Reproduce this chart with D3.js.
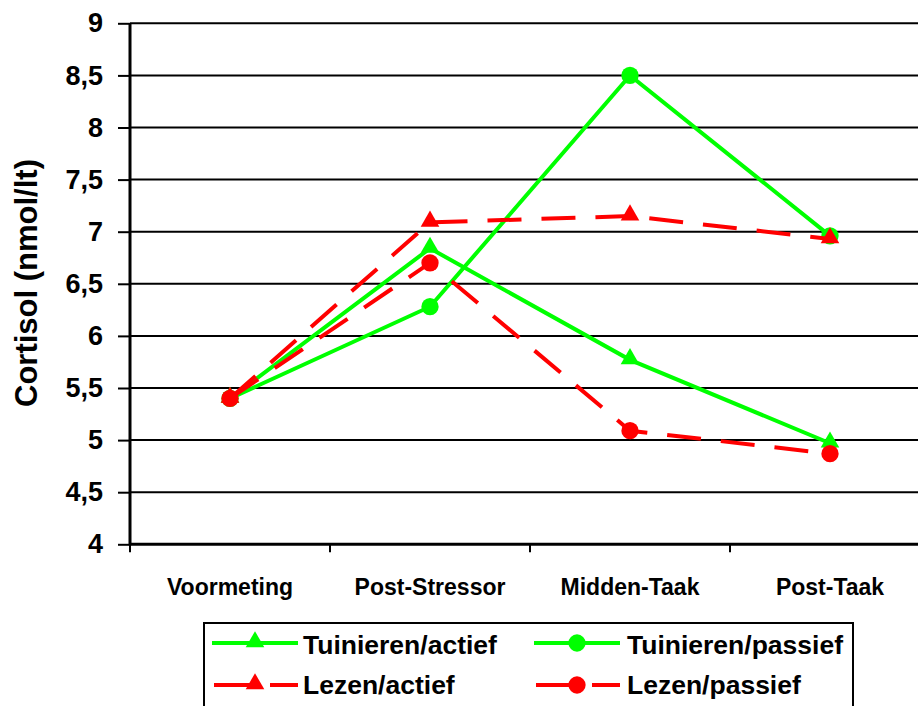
<!DOCTYPE html>
<html>
<head>
<meta charset="utf-8">
<script src="https://cdn.jsdelivr.net/npm/d3@7"></script>
<style>
  html, body { margin: 0; padding: 0; background: #fff; }
  svg { display: block; font-family: "Liberation Sans", Arial, sans-serif; font-weight: bold; }
</style>
</head>
<body>
<svg id="chart" width="918" height="706"></svg>
<script>
const categories = ["Voormeting", "Post-Stressor", "Midden-Taak", "Post-Taak"];
const yTicks = [4, 4.5, 5, 5.5, 6, 6.5, 7, 7.5, 8, 8.5, 9];
const seriesNames = ["Tuinieren/actief", "Tuinieren/passief", "Lezen/actief", "Lezen/passief"];
const tuinierenActief  = [5.4, 6.84, 5.77, 4.97];
const tuinierenPassief = [5.4, 6.28, 8.5, 6.96];
const lezenActief      = [5.4, 7.09, 7.15, 6.93];
const lezenPassief     = [5.4, 6.70, 5.09, 4.87];
const yLabel = "Cortisol (nmol/lt)";

const series = [
  { name: seriesNames[0], values: tuinierenActief,  color: "#00FF00", dash: null,    marker: "triangle" },
  { name: seriesNames[1], values: tuinierenPassief, color: "#00FF00", dash: null,    marker: "circle" },
  { name: seriesNames[2], values: lezenActief,      color: "#FF0000", dash: "34,20", marker: "triangle" },
  { name: seriesNames[3], values: lezenPassief,     color: "#FF0000", dash: "34,20", marker: "circle" }
];

const svg = d3.select("#chart");
const pL = 130, pR = 930, pT = 23.3, pB = 544.3;

const x = d3.scaleBand().domain(categories).range([pL, pR]).padding(0);
const y = d3.scaleLinear().domain([4, 9]).range([pB, pT]);
const cx = c => x(c) + x.bandwidth() / 2;

// gridlines
svg.append("g").selectAll("line").data(yTicks.filter(t => t > 4)).join("line")
  .attr("x1", pL).attr("x2", 918)
  .attr("y1", d => y(d)).attr("y2", d => y(d))
  .attr("stroke", "#000").attr("stroke-width", 2);

// y axis
const yAxis = svg.append("g").attr("transform", `translate(${pL},0)`)
  .call(d3.axisLeft(y).tickValues(yTicks).tickSize(12).tickPadding(15)
    .tickFormat(d => String(d).replace(".", ",")));
yAxis.select(".domain").attr("stroke", "#000").attr("stroke-width", 3)
  .attr("d", `M0,${pT}V${pB + 1}`);
yAxis.selectAll(".tick line").attr("stroke", "#000").attr("stroke-width", 2);
yAxis.selectAll(".tick text").attr("font-size", 27).attr("font-weight", "bold")
  .attr("fill", "#000").attr("font-family", "Liberation Sans, Arial, sans-serif");

// x axis
const xAxis = svg.append("g").attr("transform", `translate(0,${pB})`)
  .call(d3.axisBottom(x).tickSize(0).tickPadding(34));
xAxis.select(".domain").attr("stroke", "#000").attr("stroke-width", 3)
  .attr("d", `M${pL},0H918`);
xAxis.selectAll(".tick text").attr("font-size", 23).attr("font-weight", "bold")
  .attr("fill", "#000").attr("font-family", "Liberation Sans, Arial, sans-serif");
const boundaries = categories.map(c => x(c)).concat([pR]);
svg.append("g").selectAll("line").data(boundaries).join("line")
  .attr("x1", d => d).attr("x2", d => d)
  .attr("y1", pB).attr("y2", pB + 8)
  .attr("stroke", "#000").attr("stroke-width", 2);

// y label
svg.append("text")
  .attr("transform", `translate(37,283) rotate(-90)`)
  .attr("text-anchor", "middle").attr("font-size", 31).attr("fill", "#000")
  .text(yLabel);

// lines
const line = d3.line().x((d, i) => cx(categories[i])).y(d => y(d));
const triangle = d3.symbol().type(d3.symbolTriangle).size(150);
const circle = d3.symbol().type(d3.symbolCircle).size(235);

series.forEach(s => {
  svg.append("path").datum(s.values)
    .attr("d", line).attr("fill", "none")
    .attr("stroke", s.color).attr("stroke-width", 4)
    .attr("stroke-dasharray", s.dash);
  svg.append("g").selectAll("path").data(s.values).join("path")
    .attr("transform", (d, i) => `translate(${cx(categories[i])},${y(d) + (s.marker === "triangle" ? -1 : 0)})`)
    .attr("d", s.marker === "triangle" ? triangle : circle)
    .attr("fill", s.color);
});

// legend
const legend = svg.append("g");
legend.append("rect").attr("x", 204).attr("y", 623).attr("width", 649).attr("height", 100)
  .attr("fill", "#fff").attr("stroke", "#000").attr("stroke-width", 2);
const legendPos = [
  { lx1: 212, lx2: 298, mx: 255, ty: 654, ly: 643, tx: 303 },
  { lx1: 534, lx2: 620, mx: 577, ty: 654, ly: 643, tx: 627 },
  { lx1: 214, lx2: 298, mx: 255, ty: 694, ly: 685, tx: 303 },
  { lx1: 536, lx2: 620, mx: 577, ty: 694, ly: 685, tx: 627 }
];
series.forEach((s, i) => {
  const p = legendPos[i];
  legend.append("line").attr("x1", p.lx1).attr("x2", p.lx2).attr("y1", p.ly).attr("y2", p.ly)
    .attr("stroke", s.color).attr("stroke-width", 4)
    .attr("stroke-dasharray", s.dash ? "40,16" : null);
  legend.append("path")
    .attr("transform", `translate(${p.mx},${p.ly + (s.marker === "triangle" ? -1 : 0)})`)
    .attr("d", s.marker === "triangle" ? triangle : circle)
    .attr("fill", s.color);
  legend.append("text").attr("x", p.tx).attr("y", p.ty).attr("font-size", 26.5).attr("fill", "#000")
    .text(s.name);
});
</script>
</body>
</html>
